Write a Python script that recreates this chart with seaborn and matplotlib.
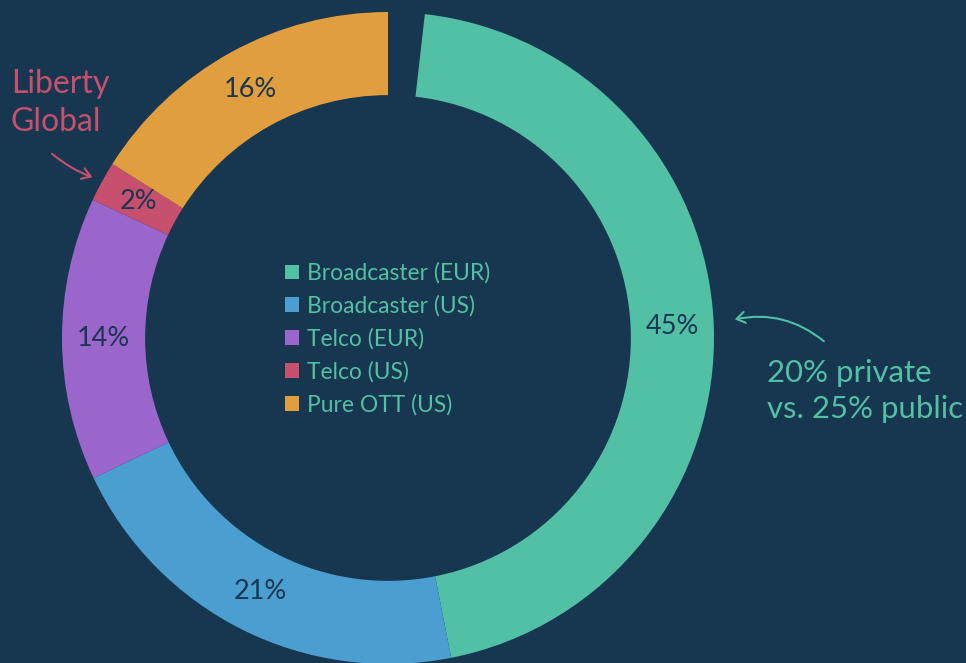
import matplotlib
matplotlib.use("Agg")
import matplotlib.pyplot as plt
import seaborn as sns
import numpy as np
from matplotlib.patches import FancyArrowPatch

# ---- data ----
categories = ["Broadcaster (EUR)", "Broadcaster (US)", "Telco (EUR)", "Telco (US)", "Pure OTT (US)"]
shares = [45, 21, 14, 2, 16]
gap_share = 1.8  # empty slice at the top of the ring
pct_labels = ["45%", "21%", "14%", "2%", "16%"]
colors = ["#52C0A5", "#4A9FD0", "#9B66CB", "#C7506F", "#E09E3E"]
note_right = "20% private\nvs. 25% public"
note_left = "Liberty\nGlobal"

BG = "#17364F"
TEAL = "#52C0A5"
PINK = "#C7506F"
DARK = "#1B3650"

sns.set_theme(style="white")
plt.rcParams["font.family"] = ["Lato", "DejaVu Sans"]

fig = plt.figure(figsize=(9.66, 6.63), dpi=100, facecolor=BG)
ax = fig.add_axes([0, 0, 1, 1])
ax.set_facecolor(BG)

values = [gap_share] + shares
wcolors = [BG] + colors
wedges, _ = ax.pie(values, colors=wcolors, startangle=90, counterclock=False,
                   radius=1.0, wedgeprops=dict(width=0.255, linewidth=0))
wedges[0].set_alpha(0)

for w, lab in zip(wedges[1:], pct_labels):
    ang = np.deg2rad((w.theta1 + w.theta2) / 2)
    r = 0.872
    ax.text(r * np.cos(ang), r * np.sin(ang), lab, ha="center", va="center",
            fontsize=19.5, color=DARK)

W, H = 966, 663
cx, cy, R = 388, 338, 326
ax.set_xlim(-cx / R, (W - cx) / R)
ax.set_ylim(-(H - cy) / R, cy / R)
ax.set_aspect("equal")
ax.axis("off")

leg = ax.legend(wedges[1:], categories, loc="center left",
                bbox_to_anchor=(285 / W, 1 - 339 / H), bbox_transform=fig.transFigure,
                frameon=False, fontsize=16.4, labelcolor=TEAL,
                handlelength=0.62, handleheight=0.62, handletextpad=0.35,
                labelspacing=0.5, borderpad=0, borderaxespad=0)


def px(x, y):
    return ((x - cx) / R, (cy - y) / R)

ax.text(*px(767, 391), note_right, ha="left", va="center", fontsize=22.4,
        color=TEAL, linespacing=1.36)
ax.text(*px(11, 103), note_left, ha="left", va="center", fontsize=23,
        color=PINK, linespacing=1.36)

a1 = FancyArrowPatch(px(826, 343), px(732, 320), connectionstyle="arc3,rad=0.25",
                     arrowstyle="->,head_length=6,head_width=4", color=TEAL, lw=1.5)
ax.add_patch(a1)
a2 = FancyArrowPatch(px(50, 152), px(95, 178), connectionstyle="arc3,rad=0.1",
                     arrowstyle="->,head_length=6,head_width=4", color=PINK, lw=1.5)
ax.add_patch(a2)

fig.savefig("out.png", dpi=100, facecolor=BG)
